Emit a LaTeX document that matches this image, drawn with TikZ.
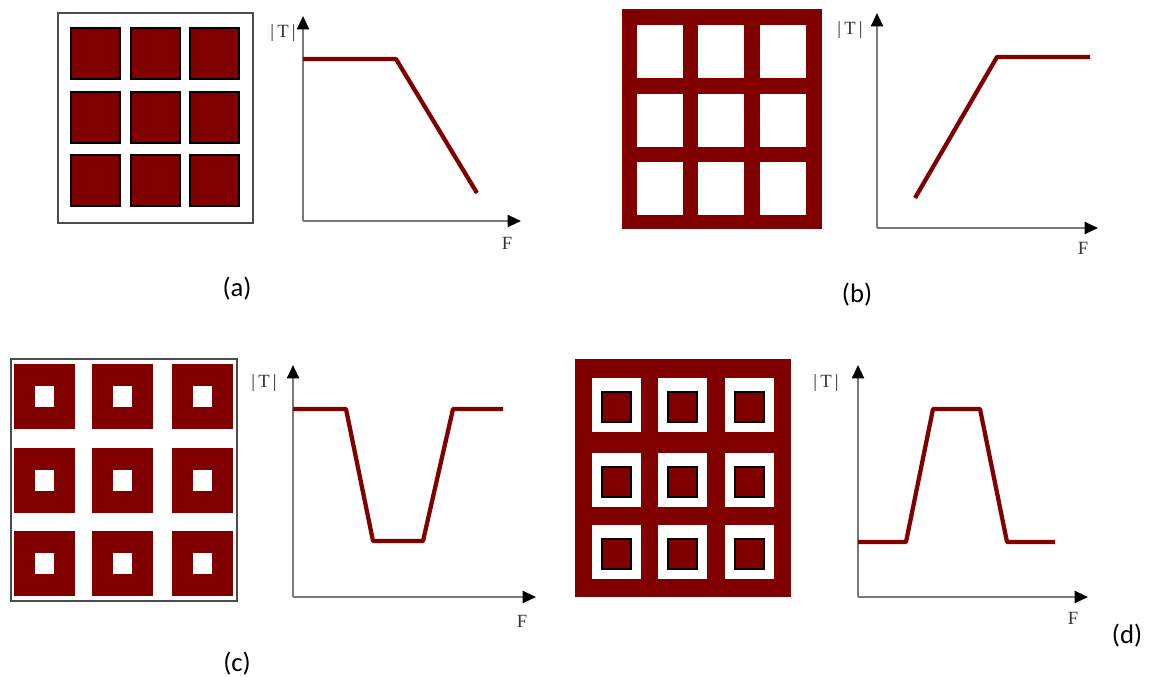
\documentclass[tikz,border=0pt]{standalone}
\usepackage{fontspec}
\newfontfamily\capfont{Carlito}
\newfontfamily\axfont{Liberation Serif}
\usetikzlibrary{arrows.meta}
\definecolor{fssred}{HTML}{800000}
\definecolor{axgray}{HTML}{7A7A7A}

\begin{document}
\begin{tikzpicture}[x=0.75pt,y=-0.75pt,
  cell/.style={fill=fssred,draw=black,line width=1.6pt},
  frame/.style={draw=black!70,line width=0.9pt},
  axis/.style={draw=axgray,line width=1.5pt,-{Triangle[color=black,length=10pt,width=9pt]}},
  resp/.style={draw=fssred,line width=3.2pt,line join=round},
  caplab/.style={font=\capfont\fontsize{20}{24}\selectfont},
  axlab/.style={font=\axfont\fontsize{14}{16}\selectfont,text=black!80}]
\useasboundingbox (0,0) rectangle (1151,677);

% (a) patches
\draw[frame] (58,13) rectangle (253,223);
\foreach \x in {71,131,190}
  \foreach \y in {28,92,155}
    \draw[cell] (\x,\y) rectangle ++(49,51);
\coordinate (Ao) at (303,221);
\coordinate (Ay) at (303,16);
\coordinate (Ax) at (521,221);
\draw[axis] (Ao) -- (Ay);
\draw[axis] (Ao) -- (Ax);
\node[axlab] (AT) at (283,33) {|\,T\,|};
\node[axlab] (AF) at (507,243) {F};
\draw[resp] (303,59) -- (396,59) -- (477,193);
\node[caplab] (capa) at (237,289) {(a)};

% (b) apertures
\fill[fssred] (622,9) rectangle (822,229);
\foreach \x in {637,698,760}
  \foreach \y in {25,94,162}
    \fill[white] (\x,\y) rectangle ++(46,53);
\coordinate (Bo) at (877,228);
\coordinate (By) at (877,13);
\coordinate (Bx) at (1098,228);
\draw[axis] (Bo) -- (By);
\draw[axis] (Bo) -- (Bx);
\node[axlab] (BT) at (850,30) {|\,T\,|};
\node[axlab] (BF) at (1083,248) {F};
\draw[resp] (915,198) -- (997,57) -- (1090,57);
\node[caplab] (capb) at (857,295) {(b)};

% (c) loops
\draw[frame] (11,359) rectangle (237,601);
\foreach \x in {14,92,172}
  \foreach \y in {364,448,531} {
    \fill[fssred] (\x,\y) rectangle ++(61,65);
    \fill[white] (\x+21,\y+22) rectangle ++(19,21);
  }
\coordinate (Co) at (293,597);
\coordinate (Cy) at (293,365);
\coordinate (Cx) at (536,597);
\draw[axis] (Co) -- (Cy);
\draw[axis] (Co) -- (Cx);
\node[axlab] (CT) at (264,383) {|\,T\,|};
\node[axlab] (CF) at (522,621) {F};
\draw[resp] (293,409) -- (346,409) -- (373,541) -- (423,541) -- (453,409) -- (503,409);
\node[caplab] (capc) at (237,664) {(c)};

% (d) slots
\fill[fssred] (575,359) rectangle (791,597);
\foreach \x in {592,658,725}
  \foreach \y in {378,453,525} {
    \fill[white] (\x,\y) rectangle ++(49,54);
    \draw[cell] (\x+10,\y+14) rectangle ++(29,30);
  }
\coordinate (Do) at (858,597);
\coordinate (Dy) at (858,365);
\coordinate (Dx) at (1088,597);
\draw[axis] (Do) -- (Dy);
\draw[axis] (Do) -- (Dx);
\node[axlab] (DT) at (826,383) {|\,T\,|};
\node[axlab] (DF) at (1073,618) {F};
\draw[resp] (858,542) -- (906,542) -- (933,409) -- (980,409) -- (1007,542) -- (1055,542);
\node[caplab] (capd) at (1127,636) {(d)};
\end{tikzpicture}
\end{document}
